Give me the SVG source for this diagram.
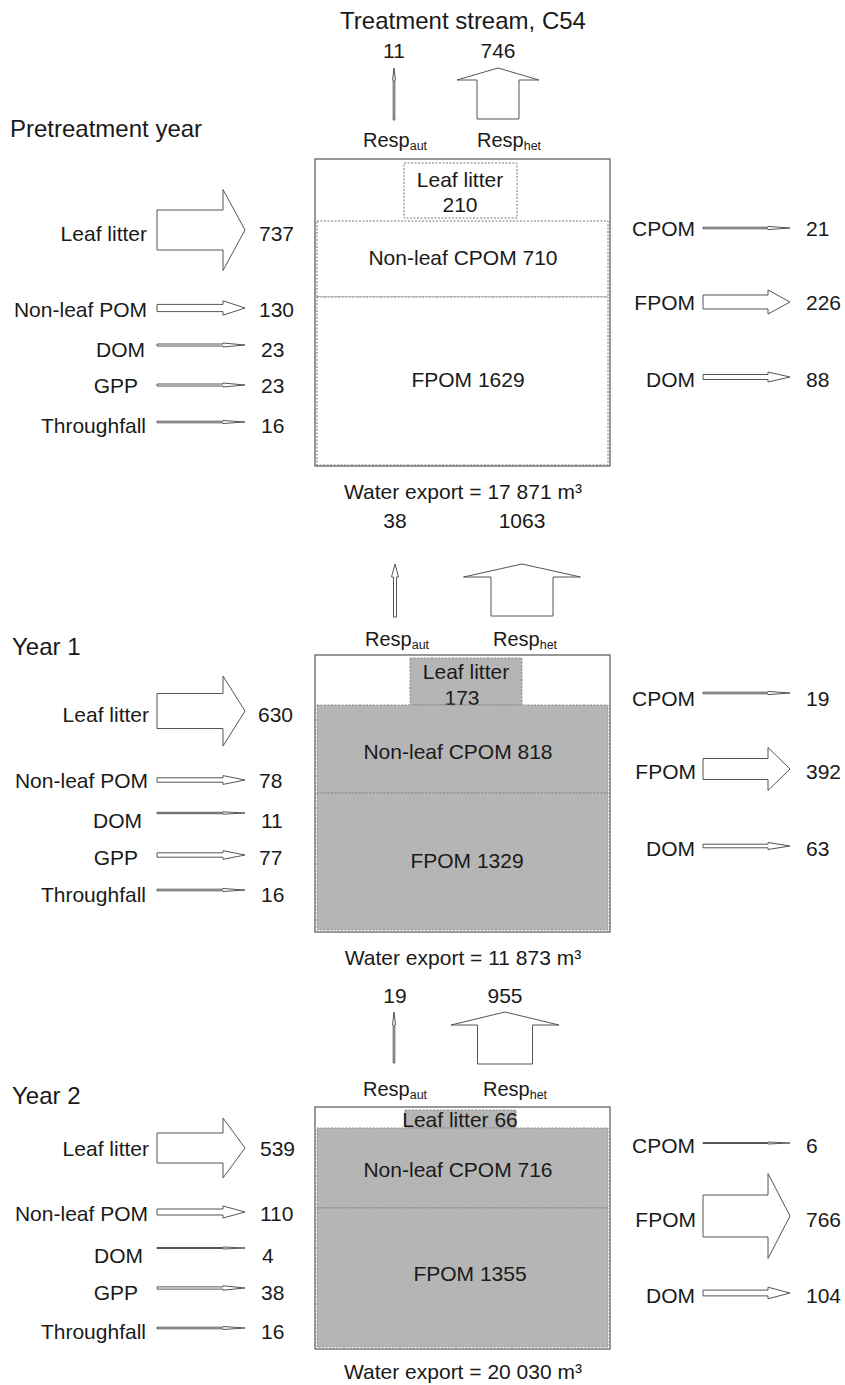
<svg xmlns="http://www.w3.org/2000/svg" width="845" height="1385" viewBox="0 0 845 1385">
<style>
text{font-family:"Liberation Sans",Arial,Helvetica,sans-serif;fill:#1a1a1a}
.t{font-size:21px}
.h{font-size:24px}
.r{font-size:20px}
.m{text-anchor:middle}
.e{text-anchor:end}
.sub{font-size:12.5px}
.box{fill:#fff;stroke:#555;stroke-width:1.2}
.dw{fill:#fff;stroke:#777;stroke-width:1;stroke-dasharray:2 1.5}
.dg{fill:#b5b5b5;stroke:#8a8a8a;stroke-width:1;stroke-dasharray:2 1.5}
.ar{fill:#fff;stroke:#555;stroke-width:1}
</style>
<rect width="845" height="1385" fill="#fff"/>
<text class="h m" x="463" y="29">Treatment stream, C54</text>

<!-- Panel 1 -->
<g id="p1-header"><text class="h" x="10" y="137">Pretreatment year</text></g>
<g id="p1-resp-aut"><text class="t m" x="394" y="58">11</text><text class="r" x="363" y="147">Resp<tspan class="sub" dy="3">aut</tspan></text></g>
<g id="p1-resp-het"><text class="t m" x="498" y="58">746</text><text class="r" x="477" y="147">Resp<tspan class="sub" dy="3">het</tspan></text></g>
<g id="p1-stock">
<rect class="box" x="315" y="159" width="295" height="307"/>
<rect class="dw" x="404" y="163" width="113" height="55"/>
<text class="t m" x="460" y="187">Leaf litter</text>
<text class="t m" x="460" y="212">210</text>
<rect class="dw" x="317" y="221" width="291" height="76"/>
<text class="t m" x="463" y="265">Non-leaf CPOM 710</text>
<rect class="dw" x="317" y="297" width="291" height="168"/>
<text class="t m" x="468" y="387">FPOM 1629</text>
</g>
<g id="p1-water"><text class="t m" x="463" y="499">Water export = 17 871 m³</text></g>
<g id="p1-in-leaf"><text class="t e" x="147" y="241">Leaf litter</text><text class="t" x="259" y="241">737</text></g>
<g id="p1-in-pom"><text class="t e" x="147" y="317">Non-leaf POM</text><text class="t" x="259" y="317">130</text></g>
<g id="p1-in-dom"><text class="t e" x="145" y="357">DOM</text><text class="t" x="261" y="357">23</text></g>
<g id="p1-in-gpp"><text class="t e" x="138" y="393">GPP</text><text class="t" x="261" y="393">23</text></g>
<g id="p1-in-tf"><text class="t e" x="146" y="433">Throughfall</text><text class="t" x="261" y="433">16</text></g>
<g id="p1-out-cpom"><text class="t e" x="695" y="236">CPOM</text><text class="t" x="806" y="236">21</text></g>
<g id="p1-out-fpom"><text class="t e" x="695" y="310">FPOM</text><text class="t" x="806" y="310">226</text></g>
<g id="p1-out-dom"><text class="t e" x="695" y="387">DOM</text><text class="t" x="806" y="387">88</text></g>

<!-- Panel 2 -->
<g id="p2-header"><text class="h" x="12" y="655">Year 1</text></g>
<g id="p2-resp-aut"><text class="t m" x="395" y="528">38</text><text class="r" x="365" y="646">Resp<tspan class="sub" dy="3">aut</tspan></text></g>
<g id="p2-resp-het"><text class="t m" x="522" y="528">1063</text><text class="r" x="493" y="646">Resp<tspan class="sub" dy="3">het</tspan></text></g>
<g id="p2-stock">
<rect class="box" x="315" y="655" width="295" height="277"/>
<rect class="dg" x="410" y="658" width="112" height="47"/>
<text class="t m" x="466" y="679">Leaf litter</text>
<text class="t m" x="462" y="705">173</text>
<rect class="dg" x="317" y="705" width="291" height="88"/>
<text class="t m" x="458" y="759">Non-leaf CPOM 818</text>
<rect class="dg" x="317" y="793" width="291" height="137"/>
<text class="t m" x="467" y="868">FPOM 1329</text>
</g>
<g id="p2-water"><text class="t m" x="463" y="965">Water export = 11 873 m³</text></g>
<g id="p2-in-leaf"><text class="t e" x="149" y="722">Leaf litter</text><text class="t" x="258" y="722">630</text></g>
<g id="p2-in-pom"><text class="t e" x="148" y="788">Non-leaf POM</text><text class="t" x="259" y="788">78</text></g>
<g id="p2-in-dom"><text class="t e" x="142" y="828">DOM</text><text class="t" x="261" y="828">11</text></g>
<g id="p2-in-gpp"><text class="t e" x="138" y="865">GPP</text><text class="t" x="259" y="865">77</text></g>
<g id="p2-in-tf"><text class="t e" x="146" y="902">Throughfall</text><text class="t" x="261" y="902">16</text></g>
<g id="p2-out-cpom"><text class="t e" x="695" y="706">CPOM</text><text class="t" x="806" y="706">19</text></g>
<g id="p2-out-fpom"><text class="t e" x="696" y="779">FPOM</text><text class="t" x="806" y="779">392</text></g>
<g id="p2-out-dom"><text class="t e" x="695" y="856">DOM</text><text class="t" x="806" y="856">63</text></g>

<!-- Panel 3 -->
<g id="p3-header"><text class="h" x="12" y="1104">Year 2</text></g>
<g id="p3-resp-aut"><text class="t m" x="395" y="1003">19</text><text class="r" x="363" y="1096">Resp<tspan class="sub" dy="3">aut</tspan></text></g>
<g id="p3-resp-het"><text class="t m" x="505" y="1003">955</text><text class="r" x="483" y="1096">Resp<tspan class="sub" dy="3">het</tspan></text></g>
<g id="p3-stock">
<rect class="box" x="315" y="1107" width="295" height="242"/>
<rect class="dg" x="405" y="1110" width="111" height="18"/>
<text class="t m" x="460" y="1127">Leaf litter 66</text>
<rect class="dg" x="317" y="1128" width="291" height="80"/>
<text class="t m" x="458" y="1177">Non-leaf CPOM 716</text>
<rect class="dg" x="317" y="1208" width="291" height="139"/>
<text class="t m" x="470" y="1281">FPOM 1355</text>
</g>
<g id="p3-water"><text class="t m" x="463" y="1379">Water export = 20 030 m³</text></g>
<g id="p3-in-leaf"><text class="t e" x="149" y="1156">Leaf litter</text><text class="t" x="260" y="1156">539</text></g>
<g id="p3-in-pom"><text class="t e" x="148" y="1221">Non-leaf POM</text><text class="t" x="260" y="1221">110</text></g>
<g id="p3-in-dom"><text class="t e" x="143" y="1263">DOM</text><text class="t" x="262" y="1263">4</text></g>
<g id="p3-in-gpp"><text class="t e" x="138" y="1300">GPP</text><text class="t" x="261" y="1300">38</text></g>
<g id="p3-in-tf"><text class="t e" x="146" y="1339">Throughfall</text><text class="t" x="261" y="1339">16</text></g>
<g id="p3-out-cpom"><text class="t e" x="695" y="1153">CPOM</text><text class="t" x="806" y="1153">6</text></g>
<g id="p3-out-fpom"><text class="t e" x="696" y="1227">FPOM</text><text class="t" x="806" y="1227">766</text></g>
<g id="p3-out-dom"><text class="t e" x="695" y="1303">DOM</text><text class="t" x="806" y="1303">104</text></g>

<g id="connectors">
<!-- panel 1 -->
<polygon class="ar" points="393.2,120 393.2,80 392.6,80 394,68 395.4,80 394.8,80 394.8,120"/>
<polygon class="ar" points="477,119 477,80 457,80 498,68 539,80 519,80 519,119"/>
<polygon class="ar" points="157,210 223,210 223,189.5 245,230 223,270.5 223,250 157,250"/>
<polygon class="ar" points="157,304.4 223,304.4 223,300.8 245,308 223,315.2 223,311.6 157,311.6"/>
<polygon class="ar" points="157,344 223,344 223,343 245,345 223,347 223,346 157,346"/>
<polygon class="ar" points="157,384 223,384 223,383 245,385 223,387 223,386 157,386"/>
<polygon class="ar" points="157,421.2 223,421.2 223,420.5 245,422 223,423.5 223,422.8 157,422.8"/>
<polygon class="ar" points="703,227.2 768,227.2 768,226.4 790,228 768,229.6 768,228.8 703,228.8"/>
<polygon class="ar" points="703,295 768,295 768,290 790,302 768,314 768,309 703,309"/>
<polygon class="ar" points="703,374.5 768,374.5 768,372 790,377 768,382 768,379.5 703,379.5"/>
<!-- panel 2 -->
<polygon class="ar" points="393.5,617 393.5,577 391.5,577 395,564 398.5,577 396.5,577 396.5,617"/>
<polygon class="ar" points="491,616 491,577 463.5,577 522,564 580.5,577 553,577 553,616"/>
<polygon class="ar" points="157,693.5 223,693.5 223,676 245,711 223,746 223,728.5 157,728.5"/>
<polygon class="ar" points="157,777.8 223,777.8 223,775.6 245,780 223,784.4 223,782.2 157,782.2"/>
<polygon class="ar" points="157,812.3 223,812.3 223,811.8 245,813 223,814.2 223,813.7 157,813.7"/>
<polygon class="ar" points="157,852.8 223,852.8 223,850.7 245,855 223,859.3 223,857.2 157,857.2"/>
<polygon class="ar" points="157,889.2 223,889.2 223,888.5 245,890 223,891.5 223,890.8 157,890.8"/>
<polygon class="ar" points="703,692.2 768,692.2 768,691.4 790,693 768,694.6 768,693.8 703,693.8"/>
<polygon class="ar" points="703,758.5 768,758.5 768,747.5 790,769 768,790.5 768,779.5 703,779.5"/>
<polygon class="ar" points="703,844.2 768,844.2 768,842.5 790,846 768,849.5 768,847.8 703,847.8"/>
<!-- panel 3 -->
<polygon class="ar" points="393.2,1063 393.2,1025 392.5,1025 394,1012 395.5,1025 394.8,1025 394.8,1063"/>
<polygon class="ar" points="477.5,1064 477.5,1025 451,1025 505,1012 559,1025 532.5,1025 532.5,1064"/>
<polygon class="ar" points="157,1133 223,1133 223,1118 245,1148 223,1178 223,1163 157,1163"/>
<polygon class="ar" points="157,1209 223,1209 223,1206 245,1212 223,1218 223,1215 157,1215"/>
<polygon class="ar" points="157,1247.5 223,1247.5 223,1247 245,1248 223,1249 223,1248.5 157,1248.5"/>
<polygon class="ar" points="157,1286.9 223,1286.9 223,1285.8 245,1288 223,1290.2 223,1289.1 157,1289.1"/>
<polygon class="ar" points="157,1327.2 223,1327.2 223,1326.5 245,1328 223,1329.5 223,1328.8 157,1328.8"/>
<polygon class="ar" points="703,1142.5 768,1142.5 768,1142 790,1143 768,1144 768,1143.5 703,1143.5"/>
<polygon class="ar" points="703,1195 768,1195 768,1173.5 790,1216 768,1258.5 768,1237 703,1237"/>
<polygon class="ar" points="703,1290.1 768,1290.1 768,1287.2 790,1293 768,1298.8 768,1295.9 703,1295.9"/>
</g>
</svg>
